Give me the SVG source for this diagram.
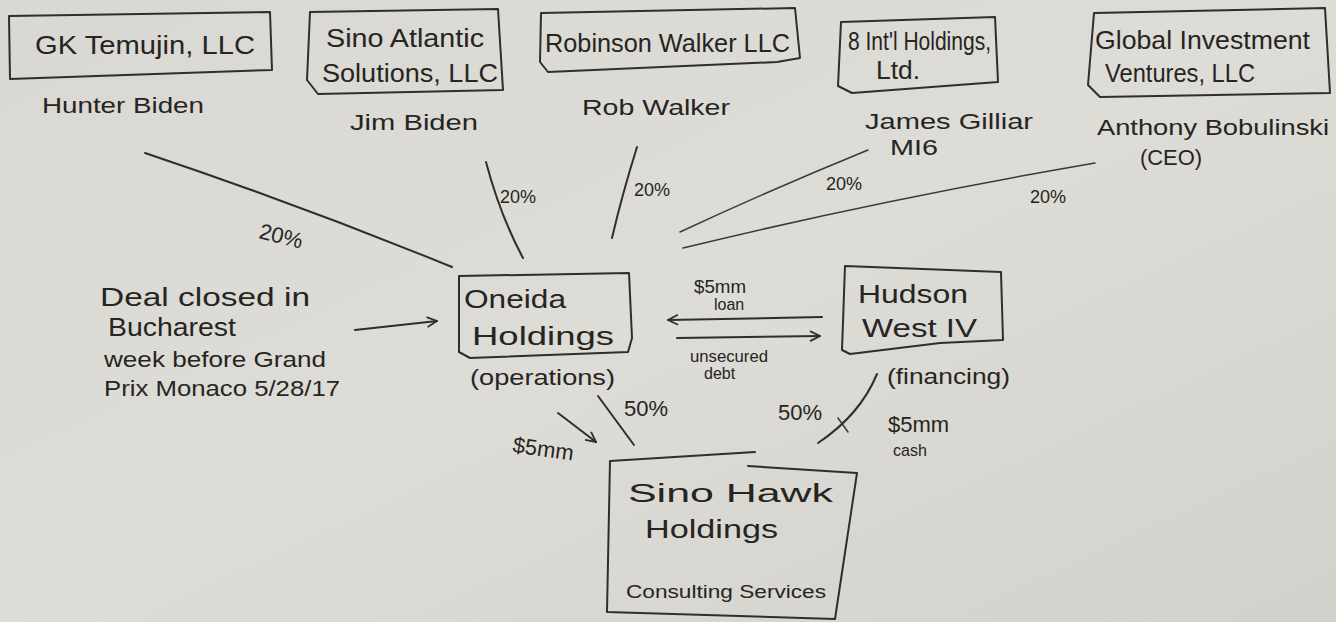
<svg xmlns="http://www.w3.org/2000/svg" width="1336" height="622" viewBox="0 0 1336 622">
<defs>
<linearGradient id="bg" x1="0" y1="0" x2="1" y2="1">
<stop offset="0" stop-color="#d9d8d3"/>
<stop offset="0.5" stop-color="#dddcd7"/>
<stop offset="1" stop-color="#d3d1cb"/>
</linearGradient>
<marker id="ah" viewBox="0 0 12 12" refX="11" refY="6" markerWidth="12" markerHeight="12" markerUnits="userSpaceOnUse" orient="auto">
<path d="M1,1 L11,6 L1,11" fill="none" stroke="#2f2e2a" stroke-width="1.8"/>
</marker>
</defs>
<style>
.ink{fill:none;stroke:#2f2e2a;stroke-width:2;stroke-linecap:round;stroke-linejoin:round}
.thin{fill:none;stroke:#3a3935;stroke-width:1.5;stroke-linecap:round}
text{font-family:"Liberation Sans","DejaVu Sans",sans-serif;fill:#262521}
.big{font-size:26px}
.mid{font-size:22px}
.sm{font-size:18px}
.xs{font-size:16px}
</style>
<rect width="1336" height="622" fill="url(#bg)"/>

<g id="gk-temujin">
<path class="ink" d="M9,16 L270,12 L272,70 L10,79 Z"/>
<text class="big" x="35" y="54" textLength="220" lengthAdjust="spacingAndGlyphs">GK Temujin, LLC</text>
<text class="mid" x="42" y="113" textLength="162" lengthAdjust="spacingAndGlyphs">Hunter Biden</text>
</g>

<g id="sino-atlantic">
<path class="ink" d="M310,12 L498,9 L503,90 L318,94 L307,80 Z"/>
<text class="big" x="326" y="47" textLength="158" lengthAdjust="spacingAndGlyphs">Sino Atlantic</text>
<text class="big" x="322" y="82" textLength="176" lengthAdjust="spacingAndGlyphs">Solutions, LLC</text>
<text class="mid" x="350" y="130" textLength="128" lengthAdjust="spacingAndGlyphs">Jim Biden</text>
</g>

<g id="robinson-walker">
<path class="ink" d="M541,13 L795,8 L800,58 L777,62 L548,72 L540,62 Z"/>
<text class="big" x="545" y="52" textLength="245" lengthAdjust="spacingAndGlyphs">Robinson Walker LLC</text>
<text class="mid" x="582" y="115" textLength="148" lengthAdjust="spacingAndGlyphs">Rob Walker</text>
</g>

<g id="eight-intl">
<path class="ink" d="M841,22 L995,17 L998,82 L852,93 L838,86 Z"/>
<text class="big" x="848" y="50" textLength="143" lengthAdjust="spacingAndGlyphs">8 Int'l Holdings,</text>
<text class="big" x="876" y="79" textLength="44" lengthAdjust="spacingAndGlyphs">Ltd.</text>
<text class="mid" x="865" y="129" textLength="168" lengthAdjust="spacingAndGlyphs">James Gilliar</text>
<text class="mid" x="890" y="155" textLength="48" lengthAdjust="spacingAndGlyphs">MI6</text>
</g>

<g id="global-investment">
<path class="ink" d="M1094,13 L1325,8 L1330,93 L1100,97 L1088,85 Z"/>
<text class="big" x="1095" y="49" textLength="215" lengthAdjust="spacingAndGlyphs">Global Investment</text>
<text class="big" x="1105" y="82" textLength="150" lengthAdjust="spacingAndGlyphs">Ventures, LLC</text>
<text class="mid" x="1097" y="135" textLength="232" lengthAdjust="spacingAndGlyphs">Anthony Bobulinski</text>
<text class="mid" x="1140" y="165" textLength="62" lengthAdjust="spacingAndGlyphs">(CEO)</text>
</g>

<g id="deal-note">
<text class="big" x="100" y="306" textLength="210" lengthAdjust="spacingAndGlyphs">Deal closed in</text>
<text class="big" x="108" y="336" textLength="128" lengthAdjust="spacingAndGlyphs">Bucharest</text>
<text class="mid" x="104" y="367" textLength="222" lengthAdjust="spacingAndGlyphs">week before Grand</text>
<text class="mid" x="104" y="396" textLength="236" lengthAdjust="spacingAndGlyphs">Prix Monaco   5/28/17</text>
</g>

<g id="oneida-holdings">
<path class="ink" d="M459,276 L629,273 L632,338 L628,352 L470,358 L459,352 Z"/>
<text class="big" x="464" y="308" textLength="102" lengthAdjust="spacingAndGlyphs">Oneida</text>
<text class="big" x="472" y="345" textLength="142" lengthAdjust="spacingAndGlyphs">Holdings</text>
<text class="mid" x="470" y="385" textLength="145" lengthAdjust="spacingAndGlyphs">(operations)</text>
</g>

<g id="hudson-west">
<path class="ink" d="M845,266 L1001,272 L1003,340 L940,343 L850,354 L842,350 Z"/>
<text class="big" x="858" y="303" textLength="110" lengthAdjust="spacingAndGlyphs">Hudson</text>
<text class="big" x="862" y="337" textLength="115" lengthAdjust="spacingAndGlyphs">West IV</text>
<text class="mid" x="887" y="384" textLength="123" lengthAdjust="spacingAndGlyphs">(financing)</text>
</g>

<g id="sino-hawk">
<path class="ink" d="M755,452 L610,461 L607,612 L835,619 L857,473 L748,466"/>
<text class="big" x="628" y="502" textLength="205" lengthAdjust="spacingAndGlyphs">Sino   Hawk</text>
<text class="big" x="645" y="538" textLength="133" lengthAdjust="spacingAndGlyphs">Holdings</text>
<text class="sm" x="626" y="598" textLength="200" lengthAdjust="spacingAndGlyphs">Consulting Services</text>
</g>

<g id="connectors">
<path class="ink" d="M145,153 Q300,205 452,267"/>
<path class="ink" d="M486,162 Q500,215 523,258"/>
<path class="ink" d="M637,147 Q622,195 612,238"/>
<path class="thin" d="M868,150 Q770,190 680,232"/>
<path class="thin" d="M1095,163 Q880,200 683,248"/>
<path class="ink" d="M355,330 L437,321" marker-end="url(#ah)"/>
<path class="ink" d="M822,317 L668,320" marker-end="url(#ah)"/>
<path class="ink" d="M677,338 L820,336" marker-end="url(#ah)"/>
<path class="ink" d="M558,413 L596,442" marker-end="url(#ah)"/>
<path class="ink" d="M598,396 L634,445"/>
<path class="ink" d="M877,374 Q860,415 818,443"/>
<path class="thin" d="M838,418 L848,432"/>
</g>

<g id="labels">
<text class="mid" x="258" y="238" transform="rotate(14 258 238)">20%</text>
<text class="sm" x="500" y="203">20%</text>
<text class="sm" x="634" y="196">20%</text>
<text class="sm" x="826" y="190">20%</text>
<text class="sm" x="1030" y="203">20%</text>
<text class="sm" x="694" y="293" textLength="52" lengthAdjust="spacingAndGlyphs">$5mm</text>
<text class="xs" x="714" y="310">loan</text>
<text class="xs" x="690" y="362" textLength="78" lengthAdjust="spacingAndGlyphs">unsecured</text>
<text class="xs" x="704" y="379">debt</text>
<text class="mid" x="624" y="416">50%</text>
<text class="mid" x="778" y="420">50%</text>
<text class="mid" x="512" y="452" transform="rotate(8 512 452)">$5mm</text>
<text class="mid" x="888" y="432">$5mm</text>
<text class="xs" x="893" y="456">cash</text>
</g>
</svg>
